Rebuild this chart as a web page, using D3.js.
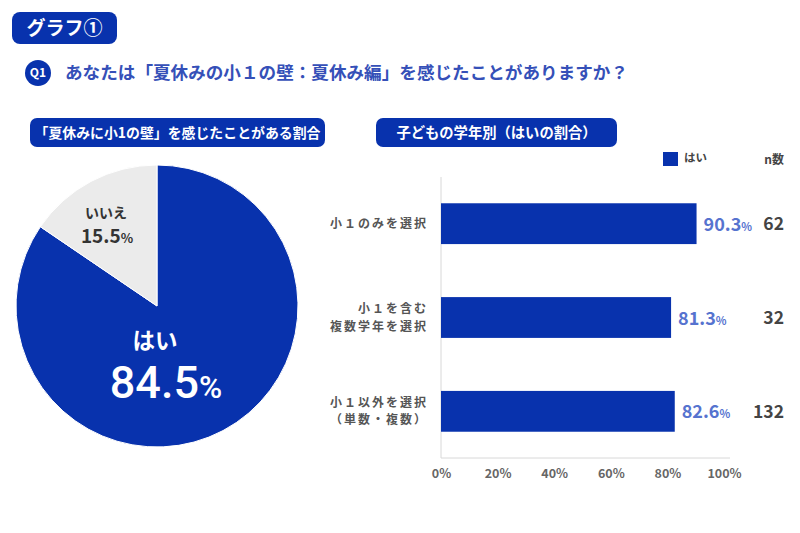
<!DOCTYPE html>
<html>
<head>
<meta charset="utf-8">
<script src="https://cdn.jsdelivr.net/npm/d3@7"></script>
<style>
  body { margin: 0; background: #fff; }
  svg { display: block; font-family: "Noto Sans CJK JP", "Noto Sans", sans-serif; font-weight: 700; }
</style>
</head>
<body>
<div id="chart"></div>
<script>
// pie data
const pieLabels = ['はい', 'いいえ']
const pieValues = [84.5, 15.5]

// bar data
const barCategories = ['小１のみを選択', '小１を含む\n複数学年を選択', '小１以外を選択\n（単数・複数）']
const barValues = [90.3, 81.3, 82.6]
const barCounts = [62, 32, 132]
const xTicks = [0, 20, 40, 60, 80, 100]

const width = 800
const height = 533
const blue = '#0832ad'
const lightBlue = '#5673cf'

const svg = d3.select('#chart')
  .append('svg')
    .attr('width', width)
    .attr('height', height)

// header boxes
function headerBox (x, y, w, h, rx, text, size) {
  const g = svg.append('g').attr('transform', 'translate(' + x + ',' + y + ')')
  g.append('rect')
    .attr('width', w)
    .attr('height', h)
    .attr('rx', rx)
    .attr('fill', blue)
  g.append('text')
    .attr('x', w / 2)
    .attr('y', h / 2)
    .attr('dy', '0.36em')
    .attr('text-anchor', 'middle')
    .attr('fill', '#fff')
    .attr('font-size', size)
    .text(text)
}

headerBox(12, 12, 105, 32, 8, 'グラフ①', 19)
headerBox(30, 118, 295, 29, 7, '「夏休みに小1の壁」を感じたことがある割合', 13.9)
headerBox(376, 118, 241, 29, 7, '子どもの学年別（はいの割合）', 14.3)

// question line
svg.append('circle')
  .attr('cx', 38)
  .attr('cy', 73)
  .attr('r', 13)
  .attr('fill', blue)
svg.append('text')
  .attr('x', 38)
  .attr('y', 73)
  .attr('dy', '0.36em')
  .attr('text-anchor', 'middle')
  .attr('fill', '#fff')
  .attr('font-size', 12)
  .text('Q1')
svg.append('text')
  .attr('x', 65)
  .attr('y', 73)
  .attr('dy', '0.36em')
  .attr('fill', '#3550b8')
  .attr('font-size', 17.6)
  .text('あなたは「夏休みの小１の壁：夏休み編」を感じたことがありますか？')

// ---- pie ----
const pieData = pieLabels.map((d, i) => ({label: d, value: pieValues[i]}))
const pieG = svg.append('g').attr('transform', 'translate(157,306)')
const radius = 141
const arcs = d3.pie().sort(null).value(d => d.value)(pieData)
const arc = d3.arc().innerRadius(0).outerRadius(radius)
pieG.selectAll('path')
  .data(arcs)
  .enter()
  .append('path')
    .attr('d', arc)
    .attr('fill', (d, i) => i === 0 ? blue : '#ebebeb')
    .attr('stroke', '#fff')
    .attr('stroke-width', 1)

function pctText (g, x, y, value, size, color, ratio) {
  const t = g.append('text')
    .attr('x', x)
    .attr('y', y)
    .attr('text-anchor', 'middle')
    .attr('fill', color)
    .attr('font-size', size)
  t.append('tspan').text(value.toFixed(1))
  t.append('tspan').attr('font-size', size * (ratio || 0.62)).text('%')
  return t
}

// yes label
pieG.append('text')
  .attr('x', -2)
  .attr('y', 43)
  .attr('text-anchor', 'middle')
  .attr('fill', '#fff')
  .attr('font-size', 22.5)
  .text(pieLabels[0])
pctText(pieG, 9, 92, pieValues[0], 45, '#fff', 0.7)
  .attr('font-family', 'Roboto, sans-serif')
  .attr('font-weight', 500)

// no label
pieG.append('text')
  .attr('x', -51)
  .attr('y', -88)
  .attr('text-anchor', 'middle')
  .attr('fill', '#333')
  .attr('font-size', 14)
  .text(pieLabels[1])
pctText(pieG, -50, -63, pieValues[1], 19, '#333', 0.68)

// ---- bars ----
const x = d3.scaleLinear().domain([0, 100]).range([441, 724])
const y = d3.scaleBand().domain(barCategories).range([177, 458]).paddingInner(0.565).paddingOuter(0.28)

const axisG = svg.append('g')
axisG.append('line')
  .attr('x1', x(0)).attr('x2', x(0))
  .attr('y1', 177).attr('y2', 458)
  .attr('stroke', '#d8d8d8')
axisG.append('line')
  .attr('x1', x(0)).attr('x2', 730)
  .attr('y1', 458).attr('y2', 458)
  .attr('stroke', '#d8d8d8')

const xAxisG = svg.append('g')
  .attr('transform', 'translate(0,458)')
  .call(d3.axisBottom(x).tickValues(xTicks).tickFormat(d => d + '%').tickSize(0).tickPadding(11))
xAxisG.select('.domain').remove()
xAxisG.selectAll('text')
  .attr('font-family', '"Noto Sans CJK JP", sans-serif')
  .attr('font-weight', 700)
  .attr('font-size', 12.5)
  .attr('fill', '#666')

svg.append('g')
  .selectAll('rect')
  .data(barValues)
  .enter()
  .append('rect')
    .attr('x', x(0))
    .attr('y', (d, i) => y(barCategories[i]))
    .attr('width', d => x(d) - x(0))
    .attr('height', y.bandwidth())
    .attr('fill', blue)

// category labels
barCategories.forEach((c, i) => {
  const lines = c.split('\n')
  const cy = y(c) + y.bandwidth() / 2
  const t = svg.append('text')
    .attr('text-anchor', 'end')
    .attr('fill', '#555')
    .attr('font-size', 12)
    .attr('letter-spacing', 2)
  lines.forEach((l, j) => {
    t.append('tspan')
      .attr('x', 428)
      .attr('y', cy + (j - (lines.length - 1) / 2) * 17.6)
      .attr('dy', '0.36em')
      .text(l)
  })
})

// value labels
barValues.forEach((v, i) => {
  const cy = y(barCategories[i]) + y.bandwidth() / 2
  pctText(svg, x(v) + 7, cy + 7, v, 18, lightBlue, 0.62).attr('text-anchor', 'start')
})

// n counts
barCounts.forEach((n, i) => {
  const cy = y(barCategories[i]) + y.bandwidth() / 2
  svg.append('text')
    .attr('x', 784)
    .attr('y', cy)
    .attr('dy', '0.36em')
    .attr('text-anchor', 'end')
    .attr('fill', '#444')
    .attr('font-size', 17.5)
    .text(n)
})

// legend
svg.append('rect')
  .attr('x', 663).attr('y', 152)
  .attr('width', 15).attr('height', 14)
  .attr('fill', blue)
svg.append('text')
  .attr('x', 684).attr('y', 158)
  .attr('dy', '0.36em')
  .attr('fill', '#444')
  .attr('font-size', 11.5)
  .text('はい')
svg.append('text')
  .attr('x', 784).attr('y', 160)
  .attr('dy', '0.36em')
  .attr('text-anchor', 'end')
  .attr('fill', '#444')
  .attr('font-size', 12)
  .text('n数')
</script>
</body>
</html>
